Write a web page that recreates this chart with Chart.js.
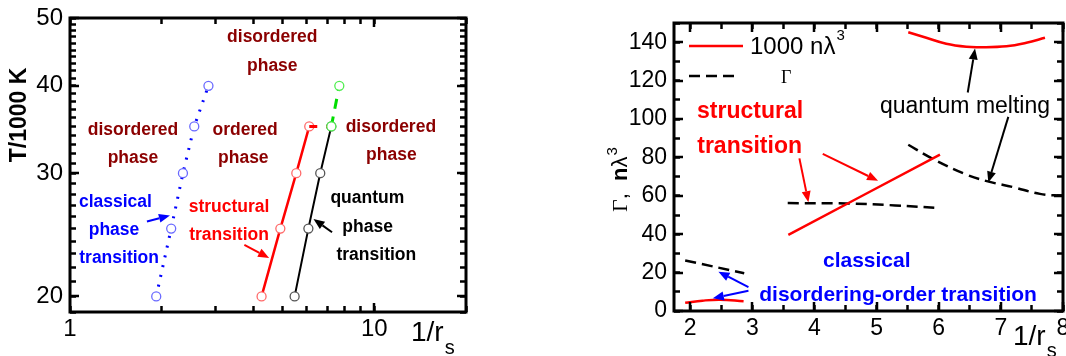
<!DOCTYPE html>
<html>
<head>
<meta charset="utf-8">
<script src="https://cdn.jsdelivr.net/npm/chart.js@4/dist/chart.umd.min.js"></script>
<style>
  html, body { margin: 0; padding: 0; background: #fff; }
  #wrap { position: relative; width: 1066px; height: 356px; overflow: hidden; }
  canvas { position: absolute; top: 0; }
</style>
</head>
<body>
<div id="wrap">
  <canvas id="left" width="533" height="356" style="left:0;width:533px;height:356px"></canvas>
  <canvas id="right" width="533" height="356" style="left:533px;width:533px;height:356px"></canvas>
</div>
<script>
// ---- left panel: T/1000 K against 1/rs (log-log) ----
const tempK = [20, 25, 30, 35, 40]
const classicalRs = [1.92, 2.15, 2.35, 2.56, 2.85]
const structuralRs = [4.26, 4.91, 5.54, 6.11]
const quantumRs = [5.47, 6.07, 6.64, 7.22]
const linkRs = [6.11, 7.22]
const linkT = [35, 35]
const greenRs = [7.22, 7.67]
const greenT = [35, 40]
const leftXLabels = [1, 10]
const leftYLabels = [20, 30, 40, 50]

// ---- right panel: Gamma and 1000 n lambda^3 against 1/rs ----
const lowRs = [1.92, 2.2, 2.48, 2.86]
const lowDens = [4.3, 5.4, 5.9, 5.1]
const lowGammaRs = [1.92, 2.87]
const lowGamma = [26.3, 19.7]
const midRs = [3.58, 6.02]
const midDens = [39.7, 81.4]
const midGammaRs = [3.57, 4.5, 5.3, 6.02]
const midGamma = [56.2, 56.0, 55.0, 53.6]
const highRs = [5.51, 5.8, 6.12, 6.45, 6.66, 7.09, 7.41, 7.71]
const highDens = [145.2, 142.3, 139.2, 137.6, 137.4, 137.9, 139.7, 142.3]
const highGammaRs = [5.51, 5.89, 6.45, 6.79, 7.2, 7.63, 8.0]
const highGamma = [86.6, 79.5, 71.0, 67.5, 64.5, 61.0, 60.0]
const rightXLabels = [2, 3, 4, 5, 6, 7, 8]
const rightYLabels = [0, 20, 40, 60, 80, 100, 120, 140]

// tick positions (labelled + unlabelled)
const leftXTicks = [1, 2, 3, 4, 5, 6, 7, 8, 9, 10, 20]
const leftYTicks = []
for (let v = 19; v <= 50; v++) leftYTicks.push(v)
const rightXTicks = [2, 2.5, 3, 3.5, 4, 4.5, 5, 5.5, 6, 6.5, 7, 7.5, 8]
const rightYTicks = [0, 10, 20, 30, 40, 50, 60, 70, 80, 90, 100, 110, 120, 130, 140, 150]

const sans = '"Liberation Sans", Arial, sans-serif'
const serif = '"Liberation Serif", "Times New Roman", serif'
const darkRed = '#8b0000'
const tickLen = 6

const pts = (xs, ys) => xs.map((x, i) => ({x: x, y: ys[i]}))
const series = (xs, ys, style) => Object.assign({data: pts(xs, ys), showLine: true, pointRadius: 0, fill: false}, style)

function arrow(ctx, x1, y1, x2, y2, color) {
  const a = Math.atan2(y2 - y1, x2 - x1), len = 11, w = 4.5
  const bx = x2 - len * Math.cos(a), by = y2 - len * Math.sin(a)
  ctx.save()
  ctx.setLineDash([])
  ctx.strokeStyle = color
  ctx.fillStyle = color
  ctx.lineWidth = 2
  ctx.beginPath(); ctx.moveTo(x1, y1); ctx.lineTo(bx, by); ctx.stroke()
  ctx.beginPath()
  ctx.moveTo(x2, y2)
  ctx.lineTo(bx + w * Math.sin(a), by - w * Math.cos(a))
  ctx.lineTo(bx - w * Math.sin(a), by + w * Math.cos(a))
  ctx.closePath(); ctx.fill()
  ctx.restore()
}

// frame plus longer major ticks
function drawBox(chart, xMajor, yMajor) {
  const ctx = chart.ctx
  const a = chart.chartArea
  const sx = chart.scales.x, sy = chart.scales.y
  ctx.save()
  ctx.setLineDash([])
  ctx.strokeStyle = '#000'
  ctx.lineWidth = 3
  ctx.strokeRect(a.left, a.top, a.right - a.left, a.bottom - a.top)
  ctx.lineWidth = 2.5
  ctx.beginPath()
  xMajor.forEach(v => {
    const p = Math.round(sx.getPixelForValue(v))
    ctx.moveTo(p, a.bottom); ctx.lineTo(p, a.bottom - 9)
    ctx.moveTo(p, a.top); ctx.lineTo(p, a.top + 9)
  })
  yMajor.forEach(v => {
    const p = Math.round(sy.getPixelForValue(v))
    ctx.moveTo(a.left, p); ctx.lineTo(a.left + 9, p)
    ctx.moveTo(a.right, p); ctx.lineTo(a.right - 9, p)
  })
  ctx.stroke()
  ctx.restore()
}

function notes(chart, labels, arrows) {
  const {ctx, scales: {x, y}} = chart
  ctx.save()
  ctx.textAlign = 'center'
  ctx.textBaseline = 'middle'
  labels.forEach(([t, vx, vy, color, font]) => {
    ctx.fillStyle = color
    ctx.font = font
    ctx.fillText(t, x.getPixelForValue(vx), y.getPixelForValue(vy))
  })
  ctx.restore()
  arrows.forEach(([x1, y1, x2, y2, color]) => {
    arrow(ctx, x.getPixelForValue(x1), y.getPixelForValue(y1), x.getPixelForValue(x2), y.getPixelForValue(y2), color)
  })
}

function rsTitle(ctx, x, y, sy) {
  ctx.save()
  ctx.fillStyle = '#000'
  ctx.textBaseline = 'alphabetic'
  ctx.textAlign = 'left'
  ctx.font = '28px ' + sans
  ctx.fillText('1/r', x, y)
  const w = ctx.measureText('1/r').width
  ctx.font = '20px ' + sans
  ctx.fillText('s', x + w + 1, sy)
  ctx.restore()
}

// axis with inward tick marks drawn by chart.js (negative tickLength)
function scaleOpts(type, position, min, max, values, labels, size, fontSize, pad) {
  return {
    type: type, position: position, min: min, max: max,
    afterBuildTicks: s => { s.ticks = values.map(v => ({value: v})) },
    afterFit: s => {
      if (s.isHorizontal()) s.height = size
      else s.width = size
      s.paddingLeft = 0; s.paddingRight = 0; s.paddingTop = 0; s.paddingBottom = 0
    },
    ticks: {
      display: labels.length > 0,
      callback: v => labels.indexOf(v) >= 0 ? String(v) : '',
      autoSkip: false, maxRotation: 0, padding: pad + tickLen,
      color: '#000', font: {family: sans, size: fontSize}
    },
    grid: {display: true, drawOnChartArea: false, drawTicks: true, tickLength: -tickLen,
      tickWidth: 2.5, tickColor: '#000', lineWidth: 1, color: 'rgba(0,0,0,0)'},
    border: {display: false}
  }
}

const common = {
  responsive: false,
  maintainAspectRatio: false,
  animation: false,
  devicePixelRatio: 1,
  plugins: {legend: {display: false}, tooltip: {enabled: false}}
}

const leftLabels = [
  ['disordered', 4.62, 47.0, darkRed], ['phase', 4.62, 42.7, darkRed],
  ['disordered', 1.61, 34.6, darkRed], ['phase', 1.61, 31.5, darkRed],
  ['ordered', 3.76, 34.6, darkRed], ['phase', 3.71, 31.5, darkRed],
  ['disordered', 11.33, 34.96, darkRed], ['phase', 11.37, 31.8, darkRed],
  ['classical', 1.41, 27.3, '#0000ff'], ['phase', 1.395, 24.9, '#0000ff'], ['transition', 1.45, 22.7, '#0000ff'],
  ['structural', 3.33, 26.8, '#ff0000'], ['transition', 3.33, 24.45, '#ff0000'],
  ['quantum', 9.48, 27.6, '#000'], ['phase', 9.5, 25.1, '#000'], ['transition', 10.15, 22.9, '#000']
].map(l => l.concat('bold 17.5px ' + sans))
const leftArrows = [
  [1.79, 25.6, 2.13, 26.1, '#0000ff'],
  [3.74, 23.7, 4.51, 22.7, '#ff0000'],
  [7.26, 24.7, 6.31, 25.8, '#000']
]

new Chart(document.getElementById('left'), {
  type: 'scatter',
  data: {datasets: [
    series(greenRs, greenT, {borderColor: '#00dd00', borderWidth: 3, borderDash: [10, 8],
      pointRadius: 4.5, pointBorderWidth: 1.3, pointBorderColor: '#50ee50', pointBackgroundColor: '#fff'}),
    series(linkRs, linkT, {borderColor: '#ff0000', borderWidth: 3, borderDash: [8, 9]}),
    series(classicalRs, tempK, {borderColor: '#0000ff', borderWidth: 3, borderDash: [2, 8],
      pointRadius: 4.5, pointBorderWidth: 1.3, pointBorderColor: '#6a6aff', pointBackgroundColor: '#fff'}),
    series(structuralRs, tempK.slice(0, 4), {borderColor: '#ff0000', borderWidth: 2.5,
      pointRadius: 4.5, pointBorderWidth: 1.3, pointBorderColor: '#ff6a6a', pointBackgroundColor: '#fff'}),
    series(quantumRs, tempK.slice(0, 4), {borderColor: '#000', borderWidth: 2,
      pointRadius: 4.5, pointBorderWidth: 1.3, pointBorderColor: '#555', pointBackgroundColor: '#fff'})
  ]},
  options: Object.assign({}, common, {
    layout: {padding: {left: 0, top: 18, right: 67, bottom: 0}},
    scales: {
      x: scaleOpts('logarithmic', 'bottom', 1, 20, leftXTicks, leftXLabels, 44, 24, 3),
      y: scaleOpts('logarithmic', 'left', 19, 50, leftYTicks, leftYLabels, 70, 24, 7),
      xTop: scaleOpts('logarithmic', 'top', 1, 20, leftXTicks, [], 0, 24, 0),
      yRight: scaleOpts('logarithmic', 'right', 19, 50, leftYTicks, [], 0, 24, 0)
    }
  }),
  plugins: [{
    id: 'leftDeco',
    afterDraw(chart) {
      const ctx = chart.ctx
      drawBox(chart, [10], leftYLabels)
      notes(chart, leftLabels, leftArrows)
      ctx.save()
      ctx.translate(20, 115)
      ctx.rotate(-Math.PI / 2)
      ctx.font = 'bold 23px ' + sans
      ctx.textAlign = 'center'
      ctx.textBaseline = 'middle'
      ctx.fillStyle = '#000'
      ctx.fillText('T/1000 K', 0, 0)
      ctx.restore()
      rsTitle(ctx, 411, 341, 354)
    }
  }]
})

// right panel
const rightLabels = [
  ['structural', 2.965, 104.0, '#ff0000', 'bold 23px ' + sans],
  ['transition', 2.957, 85.6, '#ff0000', 'bold 23px ' + sans],
  ['quantum melting', 6.423, 106.6, '#000', '23px ' + sans],
  ['classical', 4.842, 25.7, '#0000ff', 'bold 21px ' + sans],
  ['disordering-order transition', 5.346, 8.35, '#0000ff', 'bold 21px ' + sans]
]
const rightArrows = [
  [3.758, 79.5, 3.903, 56.7, '#ff0000'],
  [4.134, 81.8, 5.024, 67.8, '#ff0000'],
  [6.467, 113.8, 6.584, 136.7, '#000'],
  [7.12, 101.1, 6.798, 66.9, '#000'],
  [2.938, 12.4, 2.455, 20.5, '#0000ff'],
  [2.938, 10.6, 2.365, 6.6, '#0000ff']
]
const dens = {borderColor: '#ff0000', borderWidth: 2.5, tension: 0.4}
const gam = {borderColor: '#000', borderWidth: 2.5, borderDash: [11, 6], tension: 0.4}

new Chart(document.getElementById('right'), {
  type: 'scatter',
  data: {datasets: [
    series(lowRs, lowDens, dens),
    series(midRs, midDens, dens),
    series(highRs, highDens, dens),
    series(lowGammaRs, lowGamma, gam),
    series(midGammaRs, midGamma, gam),
    series(highGammaRs, highGamma, gam)
  ]},
  options: Object.assign({}, common, {
    layout: {padding: {left: 0, top: 23, right: 3, bottom: 0}},
    scales: {
      x: scaleOpts('linear', 'bottom', 1.74, 8, rightXTicks, rightXLabels, 45, 23, 4),
      y: scaleOpts('linear', 'left', 0, 150, rightYTicks, rightYLabels, 141, 23, 7),
      xTop: scaleOpts('linear', 'top', 1.74, 8, rightXTicks, [], 0, 23, 0),
      yRight: scaleOpts('linear', 'right', 0, 150, rightYTicks, [], 0, 23, 0)
    }
  }),
  plugins: [{
    id: 'rightDeco',
    afterDraw(chart) {
      const ctx = chart.ctx
      const a = chart.chartArea
      drawBox(chart, rightXLabels, rightYLabels)
      notes(chart, rightLabels, rightArrows)
      // legend
      ctx.save()
      ctx.lineWidth = 2.5
      ctx.strokeStyle = '#ff0000'
      ctx.setLineDash([])
      ctx.beginPath(); ctx.moveTo(a.left + 15, a.top + 23); ctx.lineTo(a.left + 69, a.top + 23); ctx.stroke()
      ctx.strokeStyle = '#000'
      ctx.setLineDash([11, 6])
      ctx.beginPath(); ctx.moveTo(a.left + 15, a.top + 53); ctx.lineTo(a.left + 63, a.top + 53); ctx.stroke()
      ctx.setLineDash([])
      ctx.fillStyle = '#000'
      ctx.textBaseline = 'middle'
      ctx.font = '24px ' + sans
      ctx.fillText('1000 n\u03bb', a.left + 76, a.top + 24)
      const w = ctx.measureText('1000 n\u03bb').width
      ctx.font = '15px ' + sans
      ctx.fillText('3', a.left + 77 + w, a.top + 13)
      ctx.font = '18px ' + serif
      ctx.fillText('\u0393', a.left + 107, a.top + 55)
      ctx.restore()
      // y title
      ctx.save()
      ctx.translate(a.left - 47, 212)
      ctx.rotate(-Math.PI / 2)
      ctx.fillStyle = '#000'
      ctx.textBaseline = 'alphabetic'
      ctx.font = '22px ' + serif
      ctx.fillText('\u0393', 0, 0)
      let cx = ctx.measureText('\u0393').width
      ctx.font = '22px ' + sans
      ctx.fillText(',  ', cx, 0)
      cx += ctx.measureText(',  ').width
      ctx.font = 'bold 22px ' + sans
      ctx.fillText('n', cx, 0)
      cx += ctx.measureText('n').width
      ctx.font = '22px ' + sans
      ctx.fillText('\u03bb', cx, 0)
      cx += ctx.measureText('\u03bb').width
      ctx.font = '15px ' + sans
      ctx.fillText('3', cx + 1, -10)
      ctx.restore()
      rsTitle(ctx, a.left + 339, 345, 357)
    }
  }]
})
</script>
</body>
</html>
